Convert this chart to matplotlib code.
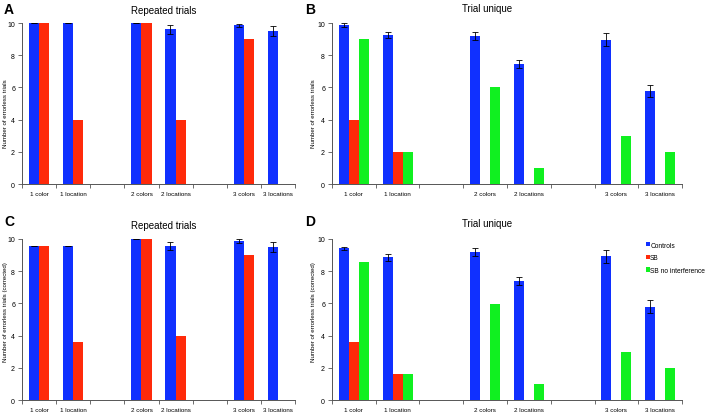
import numpy as np
import matplotlib
matplotlib.use("Agg")
import matplotlib.pyplot as plt

plt.rcParams['font.family'] = ['Liberation Sans', 'DejaVu Sans']

# categories (empty slots separate the three difficulty levels)
categories = ["1 color", "1 location", "2 colors", "2 locations", "3 colors", "3 locations"]

# A: repeated trials
rep_controls = [10.0, 10.0, 10.0, 9.6, 9.85, 9.5]
rep_controls_err = [0.0, 0.0, 0.0, 0.27, 0.1, 0.3]
rep_sb = [10.0, 4.0, 10.0, 4.0, 9.0, 0.0]

# B: trial unique
uni_controls = [9.88, 9.27, 9.2, 7.43, 8.96, 5.76]
uni_controls_err = [0.12, 0.17, 0.25, 0.25, 0.4, 0.38]
uni_sb = [4.0, 2.0, 0.0, 0.0, 0.0, 0.0]
uni_sb_noint = [9.02, 2.0, 6.02, 1.0, 3.0, 2.0]

# C: repeated trials (corrected)
repc_controls = [9.58, 9.58, 9.98, 9.58, 9.87, 9.52]
repc_controls_err = [0.0, 0.0, 0.0, 0.26, 0.1, 0.3]
repc_sb = [9.58, 3.62, 9.98, 4.0, 9.0, 0.0]

# D: trial unique (corrected)
unic_controls = [9.42, 8.86, 9.17, 7.39, 8.92, 5.8]
unic_controls_err = [0.1, 0.22, 0.25, 0.27, 0.42, 0.38]
unic_sb = [3.62, 1.6, 0.0, 0.0, 0.0, 0.0]
unic_sb_noint = [8.59, 1.6, 5.98, 0.97, 3.0, 1.97]

series_names = ["Controls", "SB", "SB no interference"]
colors = ["#1030ff", "#ff2a0a", "#10f020"]

slot_pos = np.array([0, 1, 3, 4, 6, 7])


def draw_panel(ax, series, err, width, title, ylabel, letter,
               title_x, title_pad, letter_xy, ylab_xy, legend=False):
    n = len(series)
    offsets = (np.arange(n) - (n - 1) / 2) * width
    for i, vals in enumerate(series):
        ax.bar(slot_pos + offsets[i], vals, width, color=colors[i],
               label=series_names[i], zorder=2)
    ax.errorbar(slot_pos + offsets[0], series[0], yerr=err, fmt='none',
                ecolor='black', elinewidth=0.6, capsize=2, capthick=0.6, zorder=3)
    ax.set_xlim(-0.5, 7.5)
    ax.set_ylim(0, 10)
    ax.set_yticks(range(0, 11, 2))
    ax.set_xticks(np.arange(-0.5, 8, 1))
    ax.set_xticklabels([])
    ax.set_xticks(slot_pos, minor=True)
    ax.set_xticklabels(categories, minor=True, fontsize=4.5)
    ax.tick_params(axis='x', which='major', length=3, width=0.6, color='#555555')
    ax.tick_params(axis='x', which='minor', length=0, pad=5)
    ax.tick_params(axis='y', length=3, width=0.6, color='#555555', labelsize=5, pad=2)
    for s in ['top', 'right']:
        ax.spines[s].set_visible(False)
    for s in ['left', 'bottom']:
        ax.spines[s].set_linewidth(0.7)
        ax.spines[s].set_color('#555555')
    ax.set_ylabel(ylabel, fontsize=4.4)
    ax.yaxis.set_label_coords(*ylab_xy)
    ax.set_title(title, fontsize=7, pad=title_pad, x=title_x)
    ax.text(letter_xy[0], letter_xy[1], letter, transform=ax.transAxes, fontsize=10,
            fontweight='bold', ha='left', va='center')
    if legend:
        ax.legend(loc='upper left', bbox_to_anchor=(0.89, 1.0), fontsize=4.8,
                  frameon=False, handlelength=0.5, handleheight=0.6,
                  handletextpad=0.1, labelspacing=0.85, borderaxespad=0)


fig = plt.figure(figsize=(7.08, 4.14), dpi=100)
axA = fig.add_axes([0.0311, 0.553, 0.3856, 0.389])
axB = fig.add_axes([0.4689, 0.553, 0.4944, 0.389])
axC = fig.add_axes([0.0311, 0.0314, 0.3856, 0.389])
axD = fig.add_axes([0.4689, 0.0314, 0.4944, 0.389])

draw_panel(axA, [rep_controls, rep_sb], rep_controls_err, 0.3,
           "Repeated trials", "Number of errorless trials", "A",
           0.52, 7, (-0.066, 1.087), (-0.052, 0.445))
draw_panel(axB, [uni_controls, uni_sb, uni_sb_noint], uni_controls_err, 0.23,
           "Trial unique", "Number of errorless trials", "B",
           0.443, 9, (-0.077, 1.087), (-0.047, 0.445))
draw_panel(axC, [repc_controls, repc_sb], repc_controls_err, 0.3,
           "Repeated trials", "Number of errorless trials (corrected)", "C",
           0.52, 8, (-0.066, 1.112), (-0.052, 0.555))
draw_panel(axD, [unic_controls, unic_sb, unic_sb_noint], unic_controls_err, 0.23,
           "Trial unique", "Number of errorless trials (corrected)", "D",
           0.443, 9, (-0.077, 1.112), (-0.047, 0.555), legend=True)

fig.savefig("out.png", dpi=100)
